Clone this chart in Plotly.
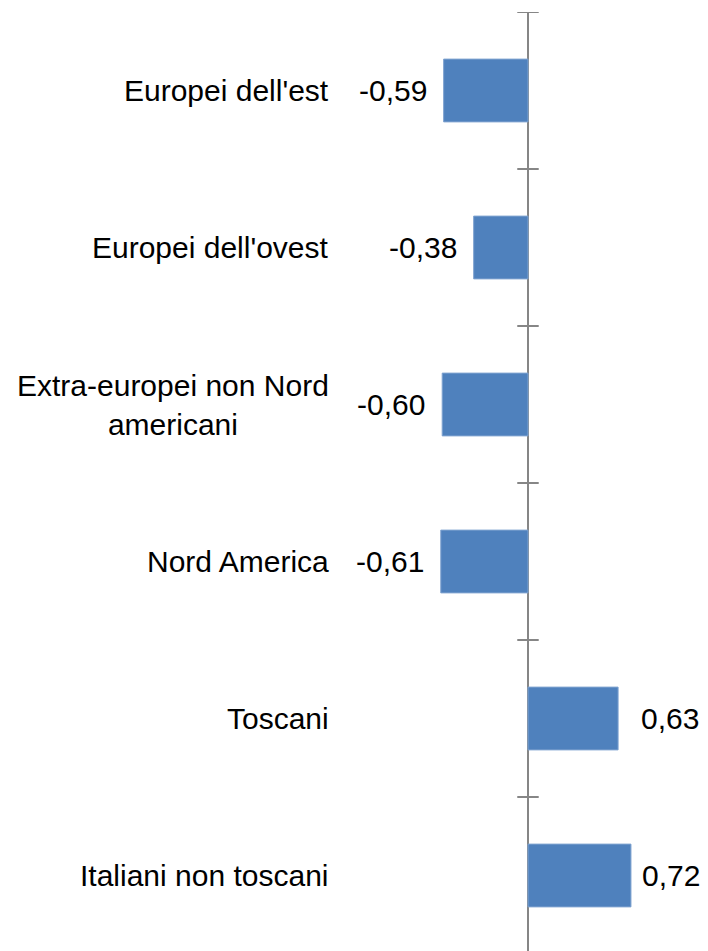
import plotly.graph_objects as go

categories = ["Europei dell'est", "Europei dell'ovest",
              "Extra-europei non Nord<br>americani", "Nord America",
              "Toscani", "Italiani non toscani"]
values = [-0.59, -0.38, -0.60, -0.61, 0.63, 0.72]

FONT = "Liberation Sans, Arial, sans-serif"
FSIZE = 30
BAR = "#4F81BD"
AXIS = "#868686"
W, H = 708, 951
TOP = 12
CAT_PX = 157
X_MIN, X_MAX = -528 / 143, 180 / 143
PX_PER_UNIT = W / (X_MAX - X_MIN)

n = len(categories)
ypos = list(range(n))

fig = go.Figure()
fig.add_trace(go.Bar(
    x=values, y=ypos, orientation="h", width=0.4,
    marker=dict(color=BAR, line=dict(color="#7FA3D0", width=1)),
    hoverinfo="skip",
))

# value labels (outside end; pushed inward when they would leave the chart)
for yv, v in zip(ypos, values):
    label = f"{v:.2f}".replace(".", ",")
    if v < 0:
        shift = -15
    else:
        text_w = 1.95 * FSIZE
        room = (X_MAX - v) * PX_PER_UNIT - text_w - 10
        shift = min(21, room)
    fig.add_annotation(
        x=v, y=yv, xref="x", yref="y",
        text=label, showarrow=False,
        xanchor="right" if v < 0 else "left",
        xshift=shift,
        font=dict(family=FONT, size=FSIZE, color="#000000"),
    )

# category labels at the low side
for yv, c in zip(ypos, categories):
    fig.add_annotation(
        x=331 / W, y=yv, xref="paper", yref="y",
        text=c, showarrow=False, xanchor="right", align="center",
        font=dict(family=FONT, size=FSIZE, color="#000000"),
    )

# tick marks crossing the vertical axis at category boundaries
for k in range(n):
    fig.add_shape(type="line", x0=-0.075, x1=0.075, y0=k - 0.5, y1=k - 0.5,
                  xref="x", yref="y", line=dict(color=AXIS, width=2))

fig.update_layout(
    width=W, height=H,
    margin=dict(l=0, r=0, t=TOP, b=0),
    paper_bgcolor="white", plot_bgcolor="white",
    showlegend=False,
    xaxis=dict(range=[X_MIN, X_MAX], showgrid=False, showticklabels=False,
               zeroline=True, zerolinecolor=AXIS, zerolinewidth=2, ticks=""),
    yaxis=dict(range=[-0.5 + (H - TOP) / CAT_PX, -0.5], showgrid=False,
               showticklabels=False, zeroline=False, ticks=""),
)

fig.write_html("out.html", config={"displayModeBar": False},
               post_script="document.body.style.margin='0';document.body.style.overflow='hidden';")
